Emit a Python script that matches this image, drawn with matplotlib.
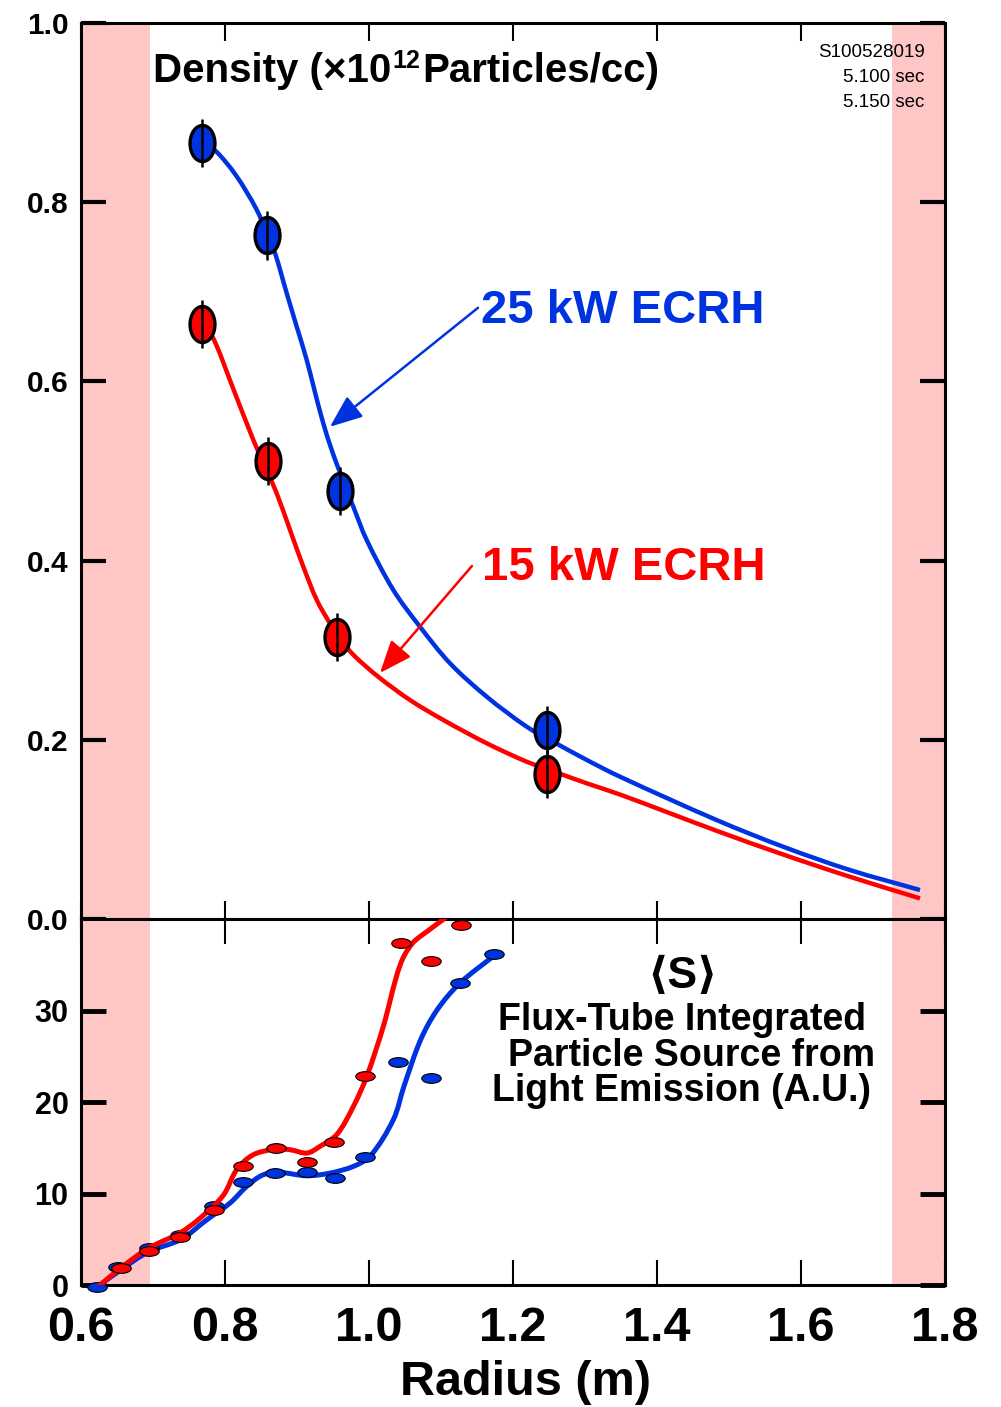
import numpy as np
import matplotlib.pyplot as plt
from matplotlib.path import Path
from matplotlib.patches import PathPatch
from matplotlib.transforms import Affine2D
from matplotlib.ticker import FormatStrFormatter

plt.rcParams['font.family'] = ['Liberation Sans', 'DejaVu Sans']
plt.rcParams['font.weight'] = 'bold'

BLUE = '#0033e0'
RED = '#ff0000'
PINK = '#ffc6c6'

# density measurements (x10^12 particles/cc)
blue_r = [0.768, 0.858, 0.960, 1.247]
blue_n = [0.866, 0.763, 0.478, 0.211]
red_r = [0.768, 0.860, 0.956, 1.247]
red_n = [0.664, 0.511, 0.315, 0.162]
n_err = 0.027

# fitted density profiles
blue_fit_r = [0.768, 0.7875, 0.8153, 0.8432, 0.8585, 0.8694, 0.8857, 0.8996, 0.9135,
              0.9250, 0.9365, 0.9482, 0.9597, 0.9782, 0.9968, 1.0338, 1.0708, 1.1125,
              1.1635, 1.2190, 1.2514, 1.3024, 1.3486, 1.4829, 1.5754, 1.6681, 1.7653]
blue_fit_n = [0.868, 0.857, 0.830, 0.793, 0.765, 0.7436, 0.6986, 0.6613, 0.6241,
              0.5880, 0.5534, 0.5236, 0.4985, 0.4603, 0.4231, 0.3673, 0.3263, 0.2855,
              0.2482, 0.2147, 0.1999, 0.1776, 0.1589, 0.1105, 0.0807, 0.0547, 0.0324]
red_fit_r = [0.768, 0.782, 0.810, 0.8393, 0.8585, 0.8718, 0.8903, 0.9088, 0.9274,
             0.9458, 0.9600, 0.9782, 1.0120, 1.0569, 1.1032, 1.1635, 1.2190, 1.2468,
             1.3024, 1.3486, 1.4829, 1.5754, 1.6681, 1.7653]
red_fit_n = [0.662, 0.651, 0.595, 0.5348, 0.4997, 0.4753, 0.4343, 0.3933, 0.3562,
             0.3301, 0.3130, 0.2950, 0.2710, 0.2445, 0.2222, 0.1962, 0.1756, 0.1676,
             0.1515, 0.1390, 0.0985, 0.0720, 0.0472, 0.0231]

# flux-tube integrated particle source (A.U.)
src_red_r = [0.655, 0.694, 0.7375, 0.785, 0.8246, 0.871, 0.9135, 0.952, 0.994,
             1.044, 1.0857, 1.128]
src_red_s = [1.9, 3.76, 5.26, 8.25, 13.0, 15.0, 13.5, 15.6, 22.8, 37.4, 35.4, 39.4]
src_blue_r = [0.622, 0.652, 0.694, 0.7375, 0.785, 0.8255, 0.870, 0.9135, 0.953,
              0.994, 1.0407, 1.0857, 1.1264, 1.174]
src_blue_s = [-0.25, 2.0, 4.0, 5.5, 8.6, 11.3, 12.2, 12.3, 11.7, 14.0, 24.4, 22.6,
              33.0, 36.2]

src_red_fit_r = [0.6218, 0.6551, 0.6944, 0.7375, 0.7653, 0.7976, 0.8163, 0.8393,
                 0.8694, 0.8903, 0.9135, 0.9319, 0.9551, 0.9782, 0.9968, 1.0199,
                 1.0431, 1.0604, 1.0847, 1.1067]
src_red_fit_s = [-0.33, 1.86, 4.05, 5.70, 7.3, 9.8, 12.6, 14.24, 14.86, 14.79,
                 14.42, 15.15, 16.43, 19.5, 22.78, 28.26, 34.94, 37.35, 38.88, 40.16]
src_blue_fit_r = [0.6218, 0.6551, 0.6944, 0.7375, 0.7746, 0.8069, 0.8301, 0.8532,
                  0.8764, 0.9135, 0.9458, 0.9782, 1.0014, 1.0338, 1.0486, 1.0719,
                  1.0951, 1.1269, 1.1761]
src_blue_fit_s = [-0.25, 1.64, 3.65, 4.93, 7.12, 8.95, 10.77, 12.05, 12.30, 11.94,
                  12.23, 12.96, 14.05, 18.07, 21.72, 26.83, 30.12, 33.04, 36.14]

x_ticks = [0.6, 0.8, 1.0, 1.2, 1.4, 1.6, 1.8]

tall_ellipse = Path.unit_circle().transformed(Affine2D().scale(0.69, 1.0))
flat_ellipse = Path.unit_circle().transformed(Affine2D().scale(1.0, 0.5))


def smooth_curve(ax, xs, ys, color, lw, zorder):
    # cubic bezier through the points, tangents from neighbouring points
    p = np.column_stack([xs, ys]).astype(float)
    x0, x1 = ax.get_xlim()
    y0, y1 = ax.get_ylim()
    q = p / [x1 - x0, y1 - y0]
    t = np.concatenate([[0.0], np.cumsum(np.hypot(*np.diff(q, axis=0).T))])
    m = np.empty_like(p)
    m[0] = (p[1] - p[0]) / (t[1] - t[0])
    m[-1] = (p[-1] - p[-2]) / (t[-1] - t[-2])
    m[1:-1] = (p[2:] - p[:-2]) / (t[2:] - t[:-2])[:, None]
    verts = [p[0]]
    codes = [Path.MOVETO]
    for i in range(len(p) - 1):
        h = t[i + 1] - t[i]
        verts += [p[i] + m[i] * h / 3, p[i + 1] - m[i + 1] * h / 3, p[i + 1]]
        codes += [Path.CURVE4] * 3
    ax.add_patch(PathPatch(Path(verts, codes), fill=False, edgecolor=color, lw=lw,
                           capstyle='butt', zorder=zorder))


fig = plt.figure(figsize=(10.01, 14.07), dpi=100)
ax1 = fig.add_axes([0.0809, 0.3468, 0.8631, 0.6368])
ax2 = fig.add_axes([0.0809, 0.0867, 0.8631, 0.2601])

for ax in (ax1, ax2):
    ax.axvspan(0.6, 0.696, color=PINK, lw=0, zorder=0)
    ax.axvspan(1.726, 1.8, color=PINK, lw=0, zorder=0)
    ax.set_xlim(0.6, 1.8)
    ax.set_xticks(x_ticks)
    for sp in ax.spines.values():
        sp.set_linewidth(2.2)
    ax.tick_params(direction='in', top=True, right=True)

# density panel
ax1.set_ylim(0, 1.0)
ax1.set_yticks([0.0, 0.2, 0.4, 0.6, 0.8, 1.0])
ax1.yaxis.set_major_formatter(FormatStrFormatter('%.1f'))
ax1.tick_params(axis='x', length=13, width=1.5, labelbottom=False)
ax1.tick_params(axis='y', length=18, width=3, labelsize=21.5, pad=9)

smooth_curve(ax1, blue_fit_r, blue_fit_n, BLUE, 3.2, 3)
smooth_curve(ax1, red_fit_r, red_fit_n, RED, 3.2, 3)
ax1.plot(blue_r, blue_n, ls='none', marker=tall_ellipse, ms=26, mfc=BLUE,
         mec='k', mew=2.4, zorder=4)
ax1.plot(red_r, red_n, ls='none', marker=tall_ellipse, ms=26, mfc=RED,
         mec='k', mew=2.4, zorder=4)
ax1.errorbar(blue_r, blue_n, yerr=n_err, fmt='none', ecolor='k', elinewidth=1.8,
             capsize=0, zorder=5)
ax1.errorbar(red_r, red_n, yerr=n_err, fmt='none', ecolor='k', elinewidth=1.8,
             capsize=0, zorder=5)

t1 = ax1.text(0.700, 0.9345, 'Density (×10', fontsize=29, ha='left', va='baseline')
t2 = ax1.annotate('12', xy=(1, 0.9345), xycoords=(t1, 'data'), xytext=(1, 10),
                  textcoords='offset points', fontsize=18, ha='left', va='baseline')
ax1.annotate('Particles/cc)', xy=(1, 0.9345), xycoords=(t2, 'data'), xytext=(1, 0),
             textcoords='offset points', fontsize=29, ha='left', va='baseline')

for yy, s in zip([0.9624, 0.9345, 0.9066], ['S100528019', '5.100 sec', '5.150 sec']):
    ax1.text(1.772, yy, s, fontsize=13.5, fontweight='normal', ha='right', va='baseline')

ax1.text(1.1556, 0.6655, '25 kW ECRH', color=BLUE, fontsize=34, ha='left', va='baseline')
ax1.text(1.157, 0.3785, '15 kW ECRH', color=RED, fontsize=34, ha='left', va='baseline')
ax1.annotate('', xy=(0.9458, 0.5494), xytext=(1.1514, 0.6822),
             arrowprops=dict(arrowstyle='-|>,head_length=1.0,head_width=0.4',
                             mutation_scale=20, color=BLUE, lw=1.8,
                             shrinkA=0, shrinkB=0))
ax1.annotate('', xy=(1.0153, 0.2747), xytext=(1.143, 0.394),
             arrowprops=dict(arrowstyle='-|>,head_length=1.0,head_width=0.4',
                             mutation_scale=20, color=RED, lw=1.8,
                             shrinkA=0, shrinkB=0))

# source panel
ax2.set_ylim(0, 40)
ax2.set_yticks([0, 10, 20, 30])
ax2.xaxis.set_major_formatter(FormatStrFormatter('%.1f'))
ax2.tick_params(axis='x', length=18, width=1.5, labelsize=35, pad=15)
ax2.tick_params(axis='y', length=18, width=3.5, labelsize=22, pad=9)

smooth_curve(ax2, src_blue_fit_r, src_blue_fit_s, BLUE, 3.6, 3)
ax2.plot(src_blue_r, src_blue_s, ls='none', marker=flat_ellipse, ms=14, mfc=BLUE,
         mec='k', mew=0.8, zorder=4, clip_on=False)
smooth_curve(ax2, src_red_fit_r, src_red_fit_s, RED, 3.6, 5)
ax2.plot(src_red_r, src_red_s, ls='none', marker=flat_ellipse, ms=14, mfc=RED,
         mec='k', mew=0.8, zorder=6, clip_on=False)

ax2.text(1.436, 32.5, '⟨S⟩', fontsize=32, ha='center', va='baseline')
ax2.text(1.4347, 27.9, 'Flux-Tube Integrated', fontsize=27, ha='center', va='baseline')
ax2.text(1.448, 23.9, 'Particle Source from', fontsize=27, ha='center', va='baseline')
ax2.text(1.4347, 20.1, 'Light Emission (A.U.)', fontsize=27, ha='center', va='baseline')

ax2.set_xlabel('Radius (m)', fontsize=35, fontweight='bold')
ax2.xaxis.set_label_coords(0.514, -0.205)

fig.savefig('out.png', dpi=100)
